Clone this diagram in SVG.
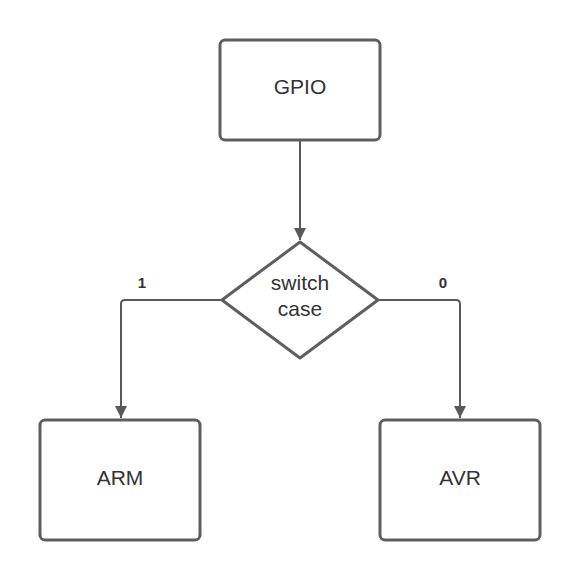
<svg xmlns="http://www.w3.org/2000/svg" width="580" height="580" viewBox="0 0 580 580">
<defs>
<style>
.box{fill:#ffffff;stroke:#5e5e5e;stroke-width:3}
.lbl{font-family:"Liberation Sans",Arial,sans-serif;font-size:21px;fill:#333333;text-anchor:middle}
.edge{fill:none;stroke:#595959;stroke-width:2}
.elbl{font-family:"Liberation Sans",Arial,sans-serif;font-size:15px;font-weight:bold;fill:#333333;text-anchor:middle}
</style>
<marker id="arr" markerWidth="12" markerHeight="12" viewBox="0 0 12 12" refX="12" refY="6" orient="auto" markerUnits="userSpaceOnUse">
<path d="M0,0 L12,6 L0,12 Z" fill="#595959"/>
</marker>
</defs>
<rect width="580" height="580" fill="#ffffff"/>
<g id="connectors">
<path class="edge" d="M300,141 L300,240" marker-end="url(#arr)"/>
<path class="edge" d="M222,300 L125,300 Q121,300 121,304 L121,418" marker-end="url(#arr)"/>
<path class="edge" d="M378,300 L456,300 Q460,300 460,304 L460,418" marker-end="url(#arr)"/>
<text class="elbl" x="142" y="288">1</text>
<text class="elbl" x="443" y="288">0</text>
</g>
<g id="gpio">
<rect class="box" x="220" y="40" width="160" height="100" rx="5"/>
<text class="lbl" x="300" y="94">GPIO</text>
</g>
<g id="switch">
<path class="box" d="M300,242 L378,300 L300,358 L222,300 Z" stroke-linejoin="round"/>
<text class="lbl" x="300" y="290">switch</text>
<text class="lbl" x="300" y="316">case</text>
</g>
<g id="arm">
<rect class="box" x="40" y="420" width="160" height="120" rx="5"/>
<text class="lbl" x="120" y="485">ARM</text>
</g>
<g id="avr">
<rect class="box" x="380" y="420" width="160" height="120" rx="5"/>
<text class="lbl" x="460" y="485">AVR</text>
</g>
</svg>
